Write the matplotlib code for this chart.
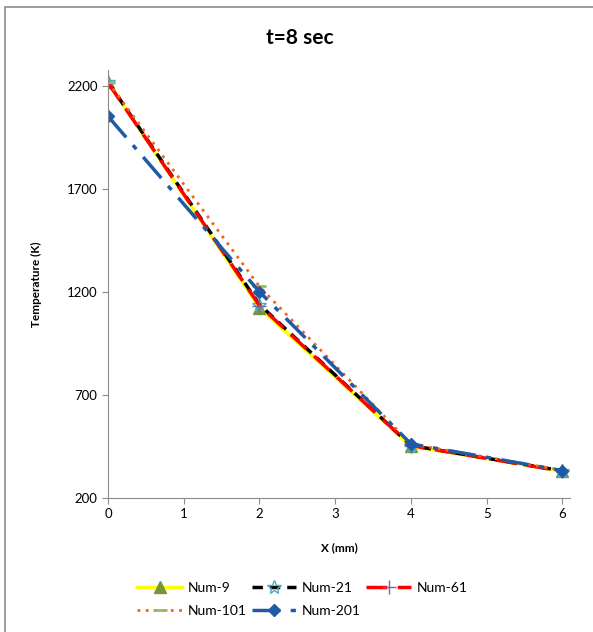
"""
Temperature profile at t=8 sec for several mesh sizes
"""

import numpy as np
import matplotlib
matplotlib.use('Agg')
import matplotlib.pyplot as plt
from matplotlib.patches import Rectangle

plt.rcParams['font.family'] = ['Lato', 'DejaVu Sans']

# Data
xPos = [0, 2, 4, 6]
num9 = [2220, 1125, 452, 330]
num21 = [2222, 1140, 455, 332]
num61 = [2218, 1135, 455, 330]
num101 = [2222, 1228, 462, 335]
num201 = [2055, 1202, 463, 333]

xTicks = [0, 1, 2, 3, 4, 5, 6]
yTicks = [200, 700, 1200, 1700, 2200]


def main():
    fig = plt.figure(figsize=(5.93, 6.32), dpi=100)

    # Chart area border, like the spreadsheet frame
    fig.patches.append(Rectangle((5 / 593, -0.01), 1.0, 1 - 7 / 632 + 0.01,
                                 transform=fig.transFigure, fill=False,
                                 edgecolor='#8c8c8c', linewidth=1.2))

    ax = fig.add_axes([108 / 593, (632 - 498) / 632, (570 - 108) / 593, (498 - 70) / 632])

    l9, = ax.plot(xPos, num9, color='#ffff00', linewidth=2.5, marker='^',
                  markersize=8, markerfacecolor='#77933c', markeredgecolor='#77933c', label='Num-9')
    l21, = ax.plot(xPos, num21, color='black', linewidth=2.5, dashes=(3, 2), marker='*',
                   markersize=10, markerfacecolor='none', markeredgecolor='#4bacc6',
                   markeredgewidth=1, label='Num-21')
    l61, = ax.plot(xPos, num61, color='#ff0000', linewidth=2.5, dashes=(6, 3), marker='+',
                   markersize=10, markeredgecolor='#8064a2', markeredgewidth=1, label='Num-61')
    l101, = ax.plot(xPos, num101, color='#f26522', linewidth=2, linestyle=(0, (1, 2)), marker='_',
                    markersize=10, markeredgecolor='#9bbb59', markeredgewidth=2, label='Num-101')
    l201, = ax.plot(xPos, num201, color='#1f5aa6', linewidth=2.5, dashes=(8, 3, 1.5, 3), marker='D',
                    markersize=6.5, markerfacecolor='#1f5aa6', markeredgecolor='#1f5aa6', label='Num-201')

    ax.set_xlim(0, 6.1)
    ax.set_ylim(200, 2280)
    ax.set_xticks(xTicks)
    ax.set_yticks(yTicks)
    ax.tick_params(labelsize=9.5, direction='out', length=4, color='#8c8c8c')
    for side in ['top', 'right']:
        ax.spines[side].set_visible(False)
    ax.spines['left'].set_color('#8c8c8c')
    ax.spines['bottom'].set_color('#8c8c8c')

    ax.set_xlabel('X (mm)', fontsize=8.5, fontweight='bold', labelpad=16)
    ax.set_ylabel('Temperature (K)', fontsize=8.5, fontweight='bold', labelpad=18)
    fig.text(0.505, 0.94, 't=8 sec', fontsize=15, fontweight='bold', ha='center', va='center')

    # ncol fills column by column, so reorder to get row-major layout
    handles = [l9, l101, l21, l201, l61]
    labels = [h.get_label() for h in handles]
    fig.legend(handles, labels, ncol=3, frameon=False, fontsize=10,
               loc='center', bbox_to_anchor=(0.51, 0.051), handlelength=3.2,
               columnspacing=0.4, handletextpad=0.4, labelspacing=0.8)

    fig.savefig('out.png', dpi=100)


if __name__ == '__main__':
    main()
